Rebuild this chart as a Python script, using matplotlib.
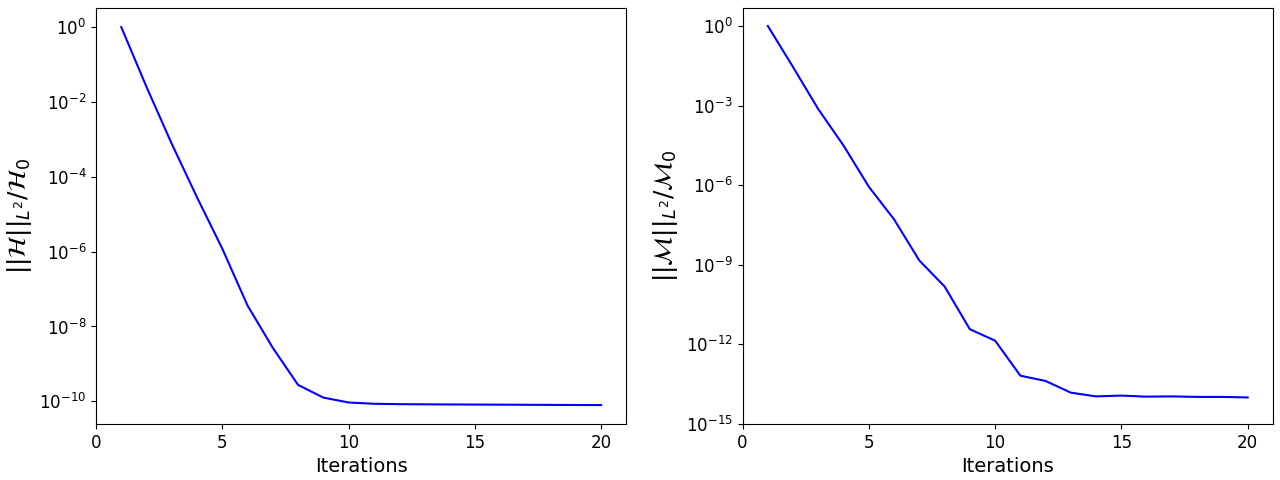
import numpy as np
import matplotlib
matplotlib.use("Agg")
import matplotlib.pyplot as plt

iterations = list(range(1, 21))
# log10 of residuals
h_log = [0.0, -1.6, -3.12, -4.55, -5.92, -7.44, -8.57, -9.56, -9.9, -10.03,
         -10.065, -10.075, -10.08, -10.083, -10.086, -10.089, -10.092, -10.095, -10.098, -10.10]
m_log = [0.0, -1.55, -3.14, -4.51, -6.06, -7.29, -8.84, -9.82, -11.43, -11.86,
         -13.18, -13.38, -13.82, -13.96, -13.93, -13.97, -13.96, -13.98, -13.98, -14.0]
h_vals = [10 ** v for v in h_log]
m_vals = [10 ** v for v in m_log]
x_ticks = [0, 5, 10, 15, 20]
h_ticks = [1e0, 1e-2, 1e-4, 1e-6, 1e-8, 1e-10]
m_ticks = [1e0, 1e-3, 1e-6, 1e-9, 1e-12, 1e-15]

fig, axes = plt.subplots(1, 2, figsize=(12.8, 4.8), dpi=100)
fig.subplots_adjust(left=0.075, right=0.9945, top=0.983, bottom=0.1167, wspace=0.219)

ax = axes[0]
ax.semilogy(iterations, h_vals, color='blue')
ax.set_xlabel('Iterations', fontsize=14)
ax.set_ylabel(r'$||\mathcal{H}||_{L^2}/\mathcal{H}_0$', fontsize=18)
ax.set_xlim(0, 21)
ax.set_xticks(x_ticks)
ax.set_yticks(h_ticks)
ax.minorticks_off()
ax.tick_params(labelsize=12)

ax = axes[1]
ax.semilogy(iterations, m_vals, color='blue')
ax.set_xlabel('Iterations', fontsize=14)
ax.set_ylabel(r'$||\mathcal{M}||_{L^2}/\mathcal{M}_0$', fontsize=18)
ax.set_xlim(0, 21)
ax.set_ylim(1e-15, 10 ** 0.67)
ax.set_xticks(x_ticks)
ax.set_yticks(m_ticks)
ax.minorticks_off()
ax.tick_params(labelsize=12)

fig.savefig('out.png', dpi=100)
